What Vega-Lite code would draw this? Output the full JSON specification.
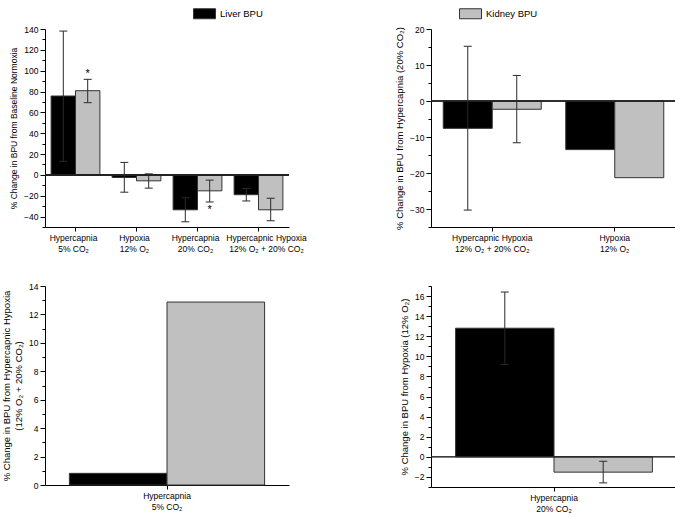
{
  "$schema": "https://vega.github.io/schema/vega-lite/v6.json",
  "padding": {"left": 1, "top": 2, "right": 0, "bottom": 0},
  "background": "white",
  "config": {
    "font": "Liberation Sans",
    "view": {"stroke": null},
    "axis": {"labelFont": "Liberation Sans", "titleFont": "Liberation Sans", "labelColor": "#000", "titleColor": "#000", "domainColor": "#000", "tickColor": "#000", "labelFontSize": 8.5, "titleFontWeight": "normal", "grid": false},
    "legend": {"orient": "none", "legendX": 148, "legendY": -27, "direction": "horizontal", "columns": 2, "columnPadding": 194, "symbolType": "M-1,-0.4545H1V0.4545H-1Z", "symbolSize": 484, "symbolStrokeColor": "#333", "symbolStrokeWidth": 1, "symbolOpacity": 1, "labelFontSize": 9.5, "labelOffset": 4, "labelColor": "#000"}
  },
  "datasets": {
    "tl": [
      {"cat": "Hypercapnia|5% CO₂", "series": "Liver BPU", "value": 75.7, "lo": 13, "hi": 138},
      {"cat": "Hypercapnia|5% CO₂", "series": "Kidney BPU", "value": 80.8, "lo": 69.3, "hi": 91.7, "star": "above"},
      {"cat": "Hypoxia|12% O₂", "series": "Liver BPU", "value": -2.5, "lo": -16.6, "hi": 12},
      {"cat": "Hypoxia|12% O₂", "series": "Kidney BPU", "value": -5.7, "lo": -12.7, "hi": 1},
      {"cat": "Hypercapnia|20% CO₂", "series": "Liver BPU", "value": -33.5, "lo": -45, "hi": -22},
      {"cat": "Hypercapnia|20% CO₂", "series": "Kidney BPU", "value": -15.3, "lo": -26, "hi": -5, "star": "below"},
      {"cat": "Hypercapnic Hypoxia|12% O₂ + 20% CO₂", "series": "Liver BPU", "value": -19, "lo": -25, "hi": -13},
      {"cat": "Hypercapnic Hypoxia|12% O₂ + 20% CO₂", "series": "Kidney BPU", "value": -33.5, "lo": -44, "hi": -22.4}
    ],
    "tr": [
      {"cat": "Hypercapnic Hypoxia|12% O₂ + 20% CO₂", "series": "Liver BPU", "value": -7.6, "lo": -30.3, "hi": 15.2},
      {"cat": "Hypercapnic Hypoxia|12% O₂ + 20% CO₂", "series": "Kidney BPU", "value": -2.3, "lo": -11.6, "hi": 7.1},
      {"cat": "Hypoxia|12% O₂", "series": "Liver BPU", "value": -13.5},
      {"cat": "Hypoxia|12% O₂", "series": "Kidney BPU", "value": -21.3}
    ],
    "bl": [
      {"cat": "Hypercapnia|5% CO₂", "series": "Liver BPU", "value": 0.82},
      {"cat": "Hypercapnia|5% CO₂", "series": "Kidney BPU", "value": 12.87}
    ],
    "br": [
      {"cat": "Hypercapnia|20% CO₂", "series": "Liver BPU", "value": 12.8, "lo": 9.2, "hi": 16.4},
      {"cat": "Hypercapnia|20% CO₂", "series": "Kidney BPU", "value": -1.52, "lo": -2.59, "hi": -0.44}
    ]
  },
  "concat": [
    {
      "width": 244, "height": 198,
      "data": {"name": "tl"},
      "layer": [
        {"mark": {"type": "bar", "stroke": "#333", "strokeWidth": 1},
         "encoding": {
           "x": {"field": "cat", "type": "nominal", "sort": ["Hypercapnia|5% CO₂", "Hypoxia|12% O₂", "Hypercapnia|20% CO₂", "Hypercapnic Hypoxia|12% O₂ + 20% CO₂"], "scale": {"paddingInner": 0.2, "paddingOuter": 0.1}, "axis": {"title": null, "labelAngle": 0, "labelExpr": "split(datum.label, '|')", "tickSize": 4, "labelPadding": 2, "labelLineHeight": 11, "labelOverlap": false, "labelOffset": {"condition": {"test": "datum.value === 'Hypercapnic Hypoxia|12% O₂ + 20% CO₂'", "value": 8}, "value": -2}}},
           "xOffset": {"field": "series", "type": "nominal", "sort": ["Liver BPU", "Kidney BPU"]},
           "y": {"field": "value", "type": "quantitative", "scale": {"domain": [-50, 140], "nice": false, "zero": false}, "axis": {"title": "% Change in BPU from Baseline Normoxia", "values": [-50, -40, -30, -20, -10, 0, 10, 20, 30, 40, 50, 60, 70, 80, 90, 100, 110, 120, 130, 140], "labelExpr": "datum.value % 20 === 0 ? datum.label : ''", "tickSize": {"condition": {"test": "datum.value % 20 === 0", "value": 5}, "value": 3}, "titleFontSize": 8.5, "titlePadding": 5}},
           "color": {"field": "series", "type": "nominal", "sort": ["Liver BPU", "Kidney BPU"], "scale": {"domain": ["Liver BPU", "Kidney BPU"], "range": ["#000000", "#c0c0c0"]}, "legend": {"title": null}}
         }},
        {"mark": {"type": "rule", "color": "#222", "strokeWidth": 1}, "encoding": {"y": {"datum": 0, "type": "quantitative", "axis": {"title": "% Change in BPU from Baseline Normoxia", "values": [-50, -40, -30, -20, -10, 0, 10, 20, 30, 40, 50, 60, 70, 80, 90, 100, 110, 120, 130, 140], "labelExpr": "datum.value % 20 === 0 ? datum.label : ''", "tickSize": {"condition": {"test": "datum.value % 20 === 0", "value": 5}, "value": 3}, "titleFontSize": 8.5, "titlePadding": 5}}}},
        {"mark": {"type": "rule", "color": "#2a2a2a", "strokeWidth": 1},
         "encoding": {"x": {"field": "cat", "type": "nominal", "sort": ["Hypercapnia|5% CO₂", "Hypoxia|12% O₂", "Hypercapnia|20% CO₂", "Hypercapnic Hypoxia|12% O₂ + 20% CO₂"], "axis": {"title": null, "labelAngle": 0, "labelExpr": "split(datum.label, '|')", "tickSize": 4, "labelPadding": 2, "labelLineHeight": 11, "labelOverlap": false, "labelOffset": {"condition": {"test": "datum.value === 'Hypercapnic Hypoxia|12% O₂ + 20% CO₂'", "value": 8}, "value": -2}}}, "xOffset": {"field": "series", "type": "nominal", "sort": ["Liver BPU", "Kidney BPU"]}, "y": {"field": "lo", "type": "quantitative", "axis": {"title": "% Change in BPU from Baseline Normoxia", "values": [-50, -40, -30, -20, -10, 0, 10, 20, 30, 40, 50, 60, 70, 80, 90, 100, 110, 120, 130, 140], "labelExpr": "datum.value % 20 === 0 ? datum.label : ''", "tickSize": {"condition": {"test": "datum.value % 20 === 0", "value": 5}, "value": 3}, "titleFontSize": 8.5, "titlePadding": 5}}, "y2": {"field": "hi"}}},
        {"mark": {"type": "tick", "orient": "horizontal", "size": 8, "thickness": 1, "color": "#2a2a2a", "opacity": 1},
         "encoding": {"x": {"field": "cat", "type": "nominal", "sort": ["Hypercapnia|5% CO₂", "Hypoxia|12% O₂", "Hypercapnia|20% CO₂", "Hypercapnic Hypoxia|12% O₂ + 20% CO₂"], "axis": {"title": null, "labelAngle": 0, "labelExpr": "split(datum.label, '|')", "tickSize": 4, "labelPadding": 2, "labelLineHeight": 11, "labelOverlap": false, "labelOffset": {"condition": {"test": "datum.value === 'Hypercapnic Hypoxia|12% O₂ + 20% CO₂'", "value": 8}, "value": -2}}}, "xOffset": {"field": "series", "type": "nominal", "sort": ["Liver BPU", "Kidney BPU"]}, "y": {"field": "lo", "type": "quantitative", "axis": {"title": "% Change in BPU from Baseline Normoxia", "values": [-50, -40, -30, -20, -10, 0, 10, 20, 30, 40, 50, 60, 70, 80, 90, 100, 110, 120, 130, 140], "labelExpr": "datum.value % 20 === 0 ? datum.label : ''", "tickSize": {"condition": {"test": "datum.value % 20 === 0", "value": 5}, "value": 3}, "titleFontSize": 8.5, "titlePadding": 5}}}},
        {"mark": {"type": "tick", "orient": "horizontal", "size": 8, "thickness": 1, "color": "#2a2a2a", "opacity": 1},
         "encoding": {"x": {"field": "cat", "type": "nominal", "sort": ["Hypercapnia|5% CO₂", "Hypoxia|12% O₂", "Hypercapnia|20% CO₂", "Hypercapnic Hypoxia|12% O₂ + 20% CO₂"], "axis": {"title": null, "labelAngle": 0, "labelExpr": "split(datum.label, '|')", "tickSize": 4, "labelPadding": 2, "labelLineHeight": 11, "labelOverlap": false, "labelOffset": {"condition": {"test": "datum.value === 'Hypercapnic Hypoxia|12% O₂ + 20% CO₂'", "value": 8}, "value": -2}}}, "xOffset": {"field": "series", "type": "nominal", "sort": ["Liver BPU", "Kidney BPU"]}, "y": {"field": "hi", "type": "quantitative", "axis": {"title": "% Change in BPU from Baseline Normoxia", "values": [-50, -40, -30, -20, -10, 0, 10, 20, 30, 40, 50, 60, 70, 80, 90, 100, 110, 120, 130, 140], "labelExpr": "datum.value % 20 === 0 ? datum.label : ''", "tickSize": {"condition": {"test": "datum.value % 20 === 0", "value": 5}, "value": 3}, "titleFontSize": 8.5, "titlePadding": 5}}}},
        {"transform": [{"filter": "datum.star === 'above'"}],
         "mark": {"type": "text", "text": "*", "fontSize": 11, "dy": 0, "baseline": "bottom", "color": "#000"},
         "encoding": {"x": {"field": "cat", "type": "nominal", "sort": ["Hypercapnia|5% CO₂", "Hypoxia|12% O₂", "Hypercapnia|20% CO₂", "Hypercapnic Hypoxia|12% O₂ + 20% CO₂"], "axis": {"title": null, "labelAngle": 0, "labelExpr": "split(datum.label, '|')", "tickSize": 4, "labelPadding": 2, "labelLineHeight": 11, "labelOverlap": false, "labelOffset": {"condition": {"test": "datum.value === 'Hypercapnic Hypoxia|12% O₂ + 20% CO₂'", "value": 8}, "value": -2}}}, "xOffset": {"field": "series", "type": "nominal", "sort": ["Liver BPU", "Kidney BPU"]}, "y": {"field": "hi", "type": "quantitative", "axis": {"title": "% Change in BPU from Baseline Normoxia", "values": [-50, -40, -30, -20, -10, 0, 10, 20, 30, 40, 50, 60, 70, 80, 90, 100, 110, 120, 130, 140], "labelExpr": "datum.value % 20 === 0 ? datum.label : ''", "tickSize": {"condition": {"test": "datum.value % 20 === 0", "value": 5}, "value": 3}, "titleFontSize": 8.5, "titlePadding": 5}}}},
        {"transform": [{"filter": "datum.star === 'below'"}],
         "mark": {"type": "text", "text": "*", "fontSize": 11, "dy": 2, "baseline": "top", "color": "#000"},
         "encoding": {"x": {"field": "cat", "type": "nominal", "sort": ["Hypercapnia|5% CO₂", "Hypoxia|12% O₂", "Hypercapnia|20% CO₂", "Hypercapnic Hypoxia|12% O₂ + 20% CO₂"], "axis": {"title": null, "labelAngle": 0, "labelExpr": "split(datum.label, '|')", "tickSize": 4, "labelPadding": 2, "labelLineHeight": 11, "labelOverlap": false, "labelOffset": {"condition": {"test": "datum.value === 'Hypercapnic Hypoxia|12% O₂ + 20% CO₂'", "value": 8}, "value": -2}}}, "xOffset": {"field": "series", "type": "nominal", "sort": ["Liver BPU", "Kidney BPU"]}, "y": {"field": "lo", "type": "quantitative", "axis": {"title": "% Change in BPU from Baseline Normoxia", "values": [-50, -40, -30, -20, -10, 0, 10, 20, 30, 40, 50, 60, 70, 80, 90, 100, 110, 120, 130, 140], "labelExpr": "datum.value % 20 === 0 ? datum.label : ''", "tickSize": {"condition": {"test": "datum.value % 20 === 0", "value": 5}, "value": 3}, "titleFontSize": 8.5, "titlePadding": 5}}}}
      ]
    },
    {
      "width": 245, "height": 198,
      "data": {"name": "tr"},
      "layer": [
        {"mark": {"type": "bar", "stroke": "#333", "strokeWidth": 1},
         "encoding": {
           "x": {"field": "cat", "type": "nominal", "sort": ["Hypercapnic Hypoxia|12% O₂ + 20% CO₂", "Hypoxia|12% O₂"], "scale": {"paddingInner": 0.2, "paddingOuter": 0.1}, "axis": {"title": null, "labelAngle": 0, "labelExpr": "split(datum.label, '|')", "tickSize": 4, "labelPadding": 2, "labelLineHeight": 11}},
           "xOffset": {"field": "series", "type": "nominal", "sort": ["Liver BPU", "Kidney BPU"]},
           "y": {"field": "value", "type": "quantitative", "scale": {"domain": [-35, 20], "nice": false, "zero": false}, "axis": {"title": "% Change in BPU from Hypercapnia (20% CO₂)", "values": [-35, -30, -25, -20, -15, -10, -5, 0, 5, 10, 15, 20], "labelExpr": "datum.value % 10 === 0 ? datum.label : ''", "tickSize": {"condition": {"test": "datum.value % 10 === 0", "value": 5}, "value": 3}, "titleFontSize": 9.5, "titlePadding": 5}},
           "color": {"field": "series", "type": "nominal", "sort": ["Liver BPU", "Kidney BPU"], "scale": {"domain": ["Liver BPU", "Kidney BPU"], "range": ["#000000", "#c0c0c0"]}, "legend": {"title": null}}
         }},
        {"mark": {"type": "rule", "color": "#222", "strokeWidth": 1}, "encoding": {"y": {"datum": 0, "type": "quantitative", "axis": {"title": "% Change in BPU from Hypercapnia (20% CO₂)", "values": [-35, -30, -25, -20, -15, -10, -5, 0, 5, 10, 15, 20], "labelExpr": "datum.value % 10 === 0 ? datum.label : ''", "tickSize": {"condition": {"test": "datum.value % 10 === 0", "value": 5}, "value": 3}, "titleFontSize": 9.5, "titlePadding": 5}}}},
        {"mark": {"type": "rule", "color": "#2a2a2a", "strokeWidth": 1},
         "encoding": {"x": {"field": "cat", "type": "nominal", "sort": ["Hypercapnic Hypoxia|12% O₂ + 20% CO₂", "Hypoxia|12% O₂"]}, "xOffset": {"field": "series", "type": "nominal", "sort": ["Liver BPU", "Kidney BPU"]}, "y": {"field": "lo", "type": "quantitative", "axis": {"title": "% Change in BPU from Hypercapnia (20% CO₂)", "values": [-35, -30, -25, -20, -15, -10, -5, 0, 5, 10, 15, 20], "labelExpr": "datum.value % 10 === 0 ? datum.label : ''", "tickSize": {"condition": {"test": "datum.value % 10 === 0", "value": 5}, "value": 3}, "titleFontSize": 9.5, "titlePadding": 5}}, "y2": {"field": "hi"}}},
        {"mark": {"type": "tick", "orient": "horizontal", "size": 8, "thickness": 1, "color": "#2a2a2a", "opacity": 1},
         "encoding": {"x": {"field": "cat", "type": "nominal", "sort": ["Hypercapnic Hypoxia|12% O₂ + 20% CO₂", "Hypoxia|12% O₂"]}, "xOffset": {"field": "series", "type": "nominal", "sort": ["Liver BPU", "Kidney BPU"]}, "y": {"field": "lo", "type": "quantitative", "axis": {"title": "% Change in BPU from Hypercapnia (20% CO₂)", "values": [-35, -30, -25, -20, -15, -10, -5, 0, 5, 10, 15, 20], "labelExpr": "datum.value % 10 === 0 ? datum.label : ''", "tickSize": {"condition": {"test": "datum.value % 10 === 0", "value": 5}, "value": 3}, "titleFontSize": 9.5, "titlePadding": 5}}}},
        {"mark": {"type": "tick", "orient": "horizontal", "size": 8, "thickness": 1, "color": "#2a2a2a", "opacity": 1},
         "encoding": {"x": {"field": "cat", "type": "nominal", "sort": ["Hypercapnic Hypoxia|12% O₂ + 20% CO₂", "Hypoxia|12% O₂"]}, "xOffset": {"field": "series", "type": "nominal", "sort": ["Liver BPU", "Kidney BPU"]}, "y": {"field": "hi", "type": "quantitative", "axis": {"title": "% Change in BPU from Hypercapnia (20% CO₂)", "values": [-35, -30, -25, -20, -15, -10, -5, 0, 5, 10, 15, 20], "labelExpr": "datum.value % 10 === 0 ? datum.label : ''", "tickSize": {"condition": {"test": "datum.value % 10 === 0", "value": 5}, "value": 3}, "titleFontSize": 9.5, "titlePadding": 5}}}}
      ]
    },
    {
      "width": 244, "height": 199,
      "data": {"name": "bl"},
      "layer": [
        {"mark": {"type": "bar", "stroke": "#333", "strokeWidth": 1},
         "encoding": {
           "x": {"field": "cat", "type": "nominal", "scale": {"paddingInner": 0.2, "paddingOuter": 0.1}, "axis": {"title": null, "labelAngle": 0, "labelExpr": "split(datum.label, '|')", "tickSize": 4, "labelPadding": 2, "labelLineHeight": 11}},
           "xOffset": {"field": "series", "type": "nominal", "sort": ["Liver BPU", "Kidney BPU"]},
           "y": {"field": "value", "type": "quantitative", "scale": {"domain": [0, 14], "nice": false, "zero": false}, "axis": {"title": ["% Change in BPU from Hypercapnic Hypoxia", "(12% O₂ + 20% CO₂)"], "values": [0, 1, 2, 3, 4, 5, 6, 7, 8, 9, 10, 11, 12, 13, 14], "labelExpr": "datum.value % 2 === 0 ? datum.label : ''", "tickSize": {"condition": {"test": "datum.value % 2 === 0", "value": 5}, "value": 3}, "titleFontSize": 9.5, "titlePadding": 5, "titleLineHeight": 12}},
           "color": {"field": "series", "type": "nominal", "sort": ["Liver BPU", "Kidney BPU"], "scale": {"domain": ["Liver BPU", "Kidney BPU"], "range": ["#000000", "#c0c0c0"]}, "legend": {"title": null}}
         }}
      ]
    },
    {
      "width": 246, "height": 201,
      "data": {"name": "br"},
      "layer": [
        {"mark": {"type": "bar", "stroke": "#333", "strokeWidth": 1},
         "encoding": {
           "x": {"field": "cat", "type": "nominal", "scale": {"paddingInner": 0.2, "paddingOuter": 0.1}, "axis": {"title": null, "labelAngle": 0, "labelExpr": "split(datum.label, '|')", "tickSize": 4, "labelPadding": 2, "labelLineHeight": 11}},
           "xOffset": {"field": "series", "type": "nominal", "sort": ["Liver BPU", "Kidney BPU"]},
           "y": {"field": "value", "type": "quantitative", "scale": {"domain": [-3, 17], "nice": false, "zero": false}, "axis": {"title": "% Change in BPU from Hypoxia (12% O₂)", "values": [-3, -2, -1, 0, 1, 2, 3, 4, 5, 6, 7, 8, 9, 10, 11, 12, 13, 14, 15, 16, 17], "labelExpr": "datum.value % 2 === 0 ? datum.label : ''", "tickSize": {"condition": {"test": "datum.value % 2 === 0", "value": 5}, "value": 3}, "titleFontSize": 9.5, "titlePadding": 5}},
           "color": {"field": "series", "type": "nominal", "sort": ["Liver BPU", "Kidney BPU"], "scale": {"domain": ["Liver BPU", "Kidney BPU"], "range": ["#000000", "#c0c0c0"]}, "legend": {"title": null}}
         }},
        {"mark": {"type": "rule", "color": "#222", "strokeWidth": 1}, "encoding": {"y": {"datum": 0, "type": "quantitative", "axis": {"title": "% Change in BPU from Hypoxia (12% O₂)", "values": [-3, -2, -1, 0, 1, 2, 3, 4, 5, 6, 7, 8, 9, 10, 11, 12, 13, 14, 15, 16, 17], "labelExpr": "datum.value % 2 === 0 ? datum.label : ''", "tickSize": {"condition": {"test": "datum.value % 2 === 0", "value": 5}, "value": 3}, "titleFontSize": 9.5, "titlePadding": 5}}}},
        {"mark": {"type": "rule", "color": "#2a2a2a", "strokeWidth": 1},
         "encoding": {"x": {"field": "cat", "type": "nominal"}, "xOffset": {"field": "series", "type": "nominal", "sort": ["Liver BPU", "Kidney BPU"]}, "y": {"field": "lo", "type": "quantitative", "axis": {"title": "% Change in BPU from Hypoxia (12% O₂)", "values": [-3, -2, -1, 0, 1, 2, 3, 4, 5, 6, 7, 8, 9, 10, 11, 12, 13, 14, 15, 16, 17], "labelExpr": "datum.value % 2 === 0 ? datum.label : ''", "tickSize": {"condition": {"test": "datum.value % 2 === 0", "value": 5}, "value": 3}, "titleFontSize": 9.5, "titlePadding": 5}}, "y2": {"field": "hi"}}},
        {"mark": {"type": "tick", "orient": "horizontal", "size": 8, "thickness": 1, "color": "#2a2a2a", "opacity": 1},
         "encoding": {"x": {"field": "cat", "type": "nominal"}, "xOffset": {"field": "series", "type": "nominal", "sort": ["Liver BPU", "Kidney BPU"]}, "y": {"field": "lo", "type": "quantitative", "axis": {"title": "% Change in BPU from Hypoxia (12% O₂)", "values": [-3, -2, -1, 0, 1, 2, 3, 4, 5, 6, 7, 8, 9, 10, 11, 12, 13, 14, 15, 16, 17], "labelExpr": "datum.value % 2 === 0 ? datum.label : ''", "tickSize": {"condition": {"test": "datum.value % 2 === 0", "value": 5}, "value": 3}, "titleFontSize": 9.5, "titlePadding": 5}}}},
        {"mark": {"type": "tick", "orient": "horizontal", "size": 8, "thickness": 1, "color": "#2a2a2a", "opacity": 1},
         "encoding": {"x": {"field": "cat", "type": "nominal"}, "xOffset": {"field": "series", "type": "nominal", "sort": ["Liver BPU", "Kidney BPU"]}, "y": {"field": "hi", "type": "quantitative", "axis": {"title": "% Change in BPU from Hypoxia (12% O₂)", "values": [-3, -2, -1, 0, 1, 2, 3, 4, 5, 6, 7, 8, 9, 10, 11, 12, 13, 14, 15, 16, 17], "labelExpr": "datum.value % 2 === 0 ? datum.label : ''", "tickSize": {"condition": {"test": "datum.value % 2 === 0", "value": 5}, "value": 3}, "titleFontSize": 9.5, "titlePadding": 5}}}}
      ]
    }
  ],
  "columns": 2,
  "spacing": {"row": 59, "column": 142},
  "bounds": "flush",
  "resolve": {"scale": {"color": "shared", "xOffset": "independent", "x": "independent", "y": "independent"}, "legend": {"color": "shared"}}
}
